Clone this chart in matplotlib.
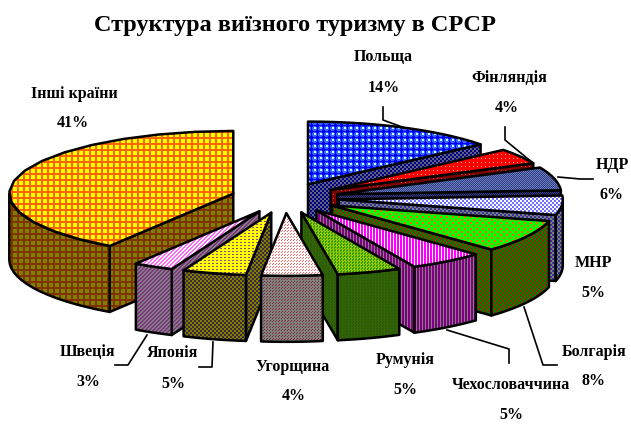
import numpy as np
import matplotlib
matplotlib.use("Agg")
import matplotlib.pyplot as plt
from matplotlib.patches import Polygon

plt.rcParams['font.family'] = ['Liberation Serif', 'DejaVu Serif']

TITLE = "Структура виїзного туризму в СРСР"

countries = ["Польща", "Фінляндія", "НДР", "МНР", "Болгарія", "Чехословаччина",
             "Румунія", "Угорщина", "Японія", "Швеція", "Інші країни"]
shares = [14.0, 4.0, 6.0, 5.0, 8.4, 5.4, 4.6, 4.4, 4.6, 2.9, 40.7]

# pie geometry in pixels
CX, CY = 285, 198
EXPLODE = 54
RX = 224
TILT = 0.28
DEPTH = 66

# label centres (name, percent) and leader lines
name_pos = [(383, 57), (509, 78), (612, 165), (593, 263), (594, 352), (511, 385),
            (405, 360), (293, 367), (173, 353), (88, 352), (74, 94)]
pct_pos = [(384, 88), (507, 108), (612, 195), (593, 293), (593, 381), (511, 415),
           (405, 390), (294, 396), (173, 384), (88, 382), (73, 123)]
leaders = [
    [(383, 107), (383, 120), (405, 128)],
    [(505, 127), (505, 140), (533, 163)],
    [(593, 179), (580, 179), (558, 177)],
    [(524, 307), (543, 365), (557, 365)],
    [(447, 330), (509, 349), (509, 363)],
    [(147, 335), (128, 365), (115, 365)],
    [(213, 342), (212, 367), (199, 367)],
]


def tile(rows, colors):
    """Turn a text dither cell into an RGB page-sized image"""
    cell = np.array([[matplotlib.colors.to_rgb(colors[c]) for c in row] for row in rows])
    h, w = cell.shape[:2]
    return np.tile(cell, (426 // h + 1, 631 // w + 1, 1))[:426, :631]


BLOB = ["aaaaaa", "abbbba", "abbbba", "abbbba", "abbbba", "aaaaaa"]
SQUARE = ["abbbaa", "bbccba", "bbccba", "bbbbba", "abbbaa", "aaaaaa"]
CHECK = ["aabb", "aabb", "bbaa", "bbaa"]
SPOTS = ["aabbaa", "aabbaa", "aaaaaa", "baaaab", "baaaab", "aaaaaa"]
FINE = ["ab", "ba"]
STRIPE = ["abb", "abb"]
ZIG = ["aabb", "abba", "bbaa", "baab"]
DOTS = ["aab", "aaa", "baa"]
SPARSE = ["aaaa", "aaaa", "abaa", "aaaa"]
TWILL = ["aab", "abb", "aba"]
BANDS = ["aaaa", "aaaa", "ccaa"]

# (top pattern, side pattern) per slice
fills = [
    (tile(SQUARE, {"a": "#0000ff", "b": "#3366ff", "c": "#ccffff"}),
     tile(CHECK, {"a": "#000080", "b": "#606080"})),
    (tile(SPARSE, {"a": "#ff0000", "b": "#ffc0a0"}),
     tile(SPARSE, {"a": "#800000", "b": "#a05050"})),
    (tile(FINE, {"a": "#6f7fb0", "b": "#2a3a90"}),
     tile(FINE, {"a": "#404060", "b": "#101060"})),
    (tile(CHECK, {"a": "#ffffff", "b": "#6f6fff"}),
     tile(CHECK, {"a": "#808080", "b": "#333399"})),
    (tile(SPOTS, {"a": "#00ff00", "b": "#ff6600"}),
     tile(CHECK, {"a": "#008000", "b": "#803300"})),
    (tile(STRIPE, {"a": "#ffffff", "b": "#ff00ff"}),
     tile(["aab", "aab"], {"a": "#800080", "b": "#808080"})),
    (tile(TWILL, {"a": "#99cc00", "b": "#339900"}),
     tile(TWILL, {"a": "#336600", "b": "#2a5a10"})),
    (tile(DOTS, {"a": "#ffffff", "b": "#ff6060"}),
     tile(DOTS, {"a": "#808080", "b": "#803030"})),
    (tile(BANDS, {"a": "#ffff00", "c": "#8a4a80"}),
     tile(CHECK, {"a": "#808000", "b": "#402a40"})),
    (tile(ZIG, {"a": "#ffffff", "b": "#ff66ff"}),
     tile(ZIG, {"a": "#808080", "b": "#803380"})),
    (tile(BLOB, {"a": "#ff6600", "b": "#ffff00"}),
     tile(BLOB, {"a": "#803300", "b": "#808000"})),
]


def point(apex, theta):
    """Rim point of a slice; theta runs clockwise from north"""
    return (apex[0] + RX * np.sin(theta), apex[1] - RX * TILT * np.cos(theta))


def drop(pts):
    return [(x, y + DEPTH) for x, y in pts]


def draw_face(ax, pts, image, zorder):
    ax_im = ax.imshow(image, extent=(0, 631, 426, 0), interpolation="nearest",
                      aspect="auto", zorder=zorder)
    face = Polygon(pts, closed=True, facecolor="none", edgecolor="black",
                   linewidth=1.8, joinstyle="round", zorder=zorder + 0.1)
    ax.add_patch(face)
    ax_im.set_clip_path(face)


def draw_slice(ax, start, end, top, side, zorder):
    mid = (start + end) / 2
    apex = (CX + EXPLODE * np.sin(mid), CY - EXPLODE * TILT * np.cos(mid))
    thetas = np.linspace(start, end, 16)
    rim = [point(apex, t) for t in thetas]

    # only the faces turned toward the viewer
    if np.sin(start) < -1e-6:
        edge = [apex, rim[0]]
        draw_face(ax, edge + drop(edge)[::-1], side, zorder)
    if np.sin(end) > 1e-6:
        edge = [apex, rim[-1]]
        draw_face(ax, edge + drop(edge)[::-1], side, zorder + 0.2)
    front = [t for t in np.linspace(start, end, 40) if np.cos(t) < 0]
    if front:
        wall = [point(apex, t) for t in front]
        draw_face(ax, wall + drop(wall)[::-1], side, zorder + 0.4)
    draw_face(ax, [apex] + rim, top, zorder + 0.6)


def main():
    fig = plt.figure(figsize=(6.31, 4.26), dpi=100)
    ax = fig.add_axes([0, 0, 1, 1])

    edges = np.radians(np.concatenate([[0], np.cumsum(shares)]) * 3.6)
    mids = (edges[:-1] + edges[1:]) / 2
    # paint from the back of the pie to the front
    order = np.argsort(-np.cos(mids))
    for rank, i in enumerate(order):
        draw_slice(ax, edges[i], edges[i + 1], fills[i][0], fills[i][1], 2 + rank)

    for line in leaders:
        xs, ys = zip(*line)
        ax.plot(xs, ys, color="black", lw=1.2, zorder=30)

    text_style = dict(ha="center", va="center", fontsize=11.5, fontweight="bold",
                      color="black", zorder=40)
    for name, share, npos, ppos in zip(countries, shares, name_pos, pct_pos):
        ax.text(npos[0], npos[1], name, **text_style)
        ax.text(ppos[0], ppos[1], f"{round(share)}%", **text_style)
    ax.text(295, 26, TITLE, ha="center", va="center", fontsize=17.5,
            fontweight="bold", color="black", zorder=40)

    ax.set_xlim(0, 631)
    ax.set_ylim(426, 0)
    ax.axis("off")
    fig.savefig("out.png", dpi=100, facecolor="white")


if __name__ == "__main__":
    main()
